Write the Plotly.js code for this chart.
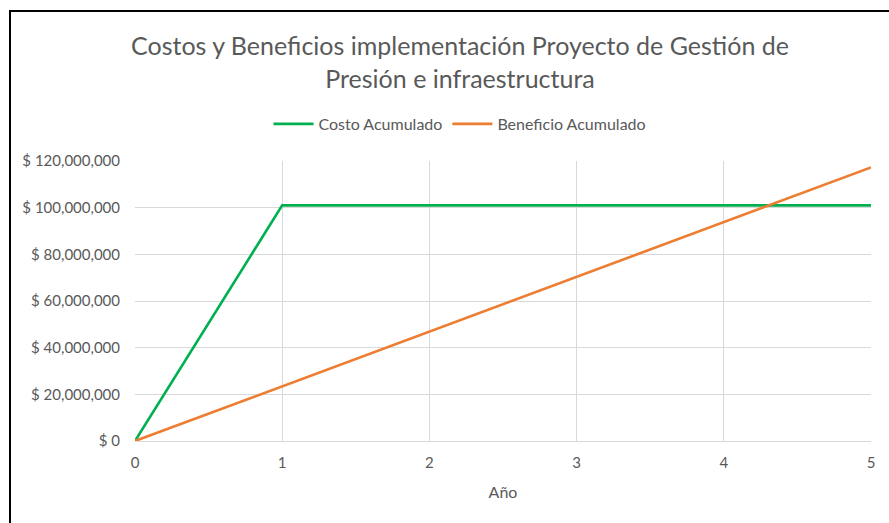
<!DOCTYPE html>
<html>
<head>
<meta charset="utf-8">
<script src="https://cdn.plot.ly/plotly-3.0.1.min.js"></script>
<style>
  html, body { margin: 0; padding: 0; width: 889px; height: 523px; overflow: hidden; background: #fff; }
  #frame { position: absolute; left: 9px; top: 10px; width: 898px; height: 520px; border: 2px solid #000; overflow: hidden; background: #fff; }
  #chart { width: 898px; height: 520px; }
</style>
</head>
<body>
<div id="frame"><div id="chart"></div></div>
<script>
const years = [0, 1, 2, 3, 4, 5];
const costoAcumulado = [0, 101000000, 101000000, 101000000, 101000000, 101000000];
const beneficioAcumulado = [0, 23450000, 46900000, 70350000, 93800000, 117250000];
const yTicks = [0, 20000000, 40000000, 60000000, 80000000, 100000000, 120000000];
const yTickLabels = ['$ 0', '$ 20,000,000', '$ 40,000,000', '$ 60,000,000', '$ 80,000,000', '$ 100,000,000', '$ 120,000,000'];

const font = "Lato, 'Open Sans', sans-serif";
const grey = '#595959';

const traces = [
  { x: years, y: costoAcumulado, name: 'Costo Acumulado', type: 'scatter', mode: 'lines',
    line: { color: '#00b050', width: 2.6 } },
  { x: years, y: beneficioAcumulado, name: 'Beneficio Acumulado', type: 'scatter', mode: 'lines',
    line: { color: '#ed7d31', width: 2.6 } }
];

const layout = {
  width: 898, height: 520,
  margin: { l: 124, r: 38, t: 149, b: 91 },
  paper_bgcolor: '#fff', plot_bgcolor: '#fff',
  font: { family: font, color: grey, size: 15 },
  title: {
    text: 'Costos y Beneficios implementación Proyecto de Gestión de<br>Presión e infraestructura',
    font: { family: font, size: 25, color: grey },
    x: 0.5, xref: 'container', xanchor: 'center',
    y: 1 - 43 / 520, yref: 'container', yanchor: 'top'
  },
  showlegend: true,
  legend: {
    orientation: 'h', xref: 'container', yref: 'container',
    x: 0.5, xanchor: 'center', y: 1 - 112 / 520, yanchor: 'middle',
    font: { family: font, size: 16, color: grey },
    itemwidth: 40, tracegroupgap: 0
  },
  xaxis: {
    range: [0, 5], tickvals: years, ticktext: years.map(String),
    showgrid: true, gridcolor: '#d9d9d9', gridwidth: 1,
    zeroline: false, showline: true, linecolor: '#d9d9d9', linewidth: 1, mirror: false,
    ticks: '', ticklen: 0, ticklabelstandoff: 8,
    tickfont: { family: font, size: 15, color: grey },
    title: { text: 'Año', font: { family: font, size: 16, color: grey }, standoff: 16 }
  },
  yaxis: {
    range: [0, 120000000], tickvals: yTicks, ticktext: yTickLabels,
    showgrid: true, gridcolor: '#d9d9d9', gridwidth: 1,
    zeroline: false, showline: false,
    ticks: '', ticklabelstandoff: 14,
    tickfont: { family: font, size: 15, color: grey }
  }
};

Plotly.newPlot('chart', traces, layout, { displayModeBar: false, staticPlot: true });
</script>
</body>
</html>
